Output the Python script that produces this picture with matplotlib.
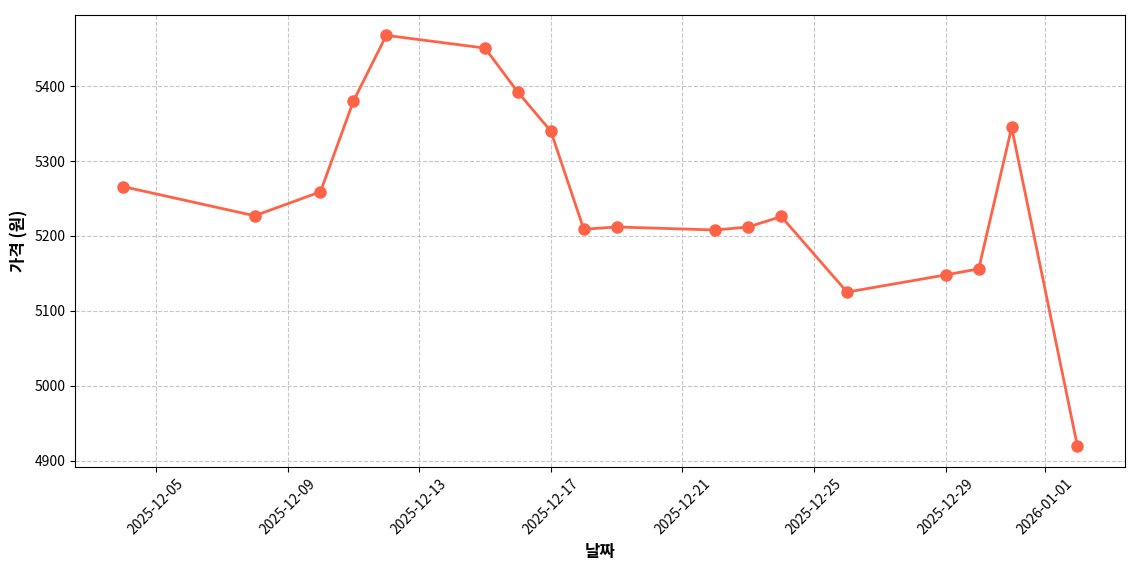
import matplotlib
matplotlib.use("Agg")
import matplotlib.pyplot as plt
import matplotlib.dates as mdates
import pandas as pd

plt.rcParams['font.family'] = ['Noto Sans CJK KR', 'DejaVu Sans']
plt.rcParams['axes.unicode_minus'] = False

dates = ["2025-12-04","2025-12-08","2025-12-10","2025-12-11","2025-12-12","2025-12-15",
         "2025-12-16","2025-12-17","2025-12-18","2025-12-19","2025-12-22","2025-12-23",
         "2025-12-24","2025-12-26","2025-12-29","2025-12-30","2025-12-31","2026-01-02"]
prices = [5266,5227,5259,5380,5468,5451,5392,5340,5209,5212,5208,5212,5226,5125,5148,5156,5345,4919]

x = pd.to_datetime(dates)
fig, ax = plt.subplots(figsize=(11.4, 5.7), dpi=100)
ax.plot(x, prices, color='#FF6347', marker='o', markersize=8, linewidth=2)
ax.set_xlabel('날짜', fontsize=12, fontweight='bold')
ax.set_ylabel('가격 (원)', fontsize=12, fontweight='bold')
ax.grid(True, linestyle='--', alpha=0.7)
ax.xaxis.set_major_locator(mdates.DayLocator(bymonthday=[1,5,9,13,17,21,25,29]))
ax.xaxis.set_major_formatter(mdates.DateFormatter('%Y-%m-%d'))
plt.setp(ax.get_xticklabels(), rotation=45)
fig.subplots_adjust(left=0.066, right=0.987, top=0.974, bottom=0.181)
fig.savefig('out.png')
